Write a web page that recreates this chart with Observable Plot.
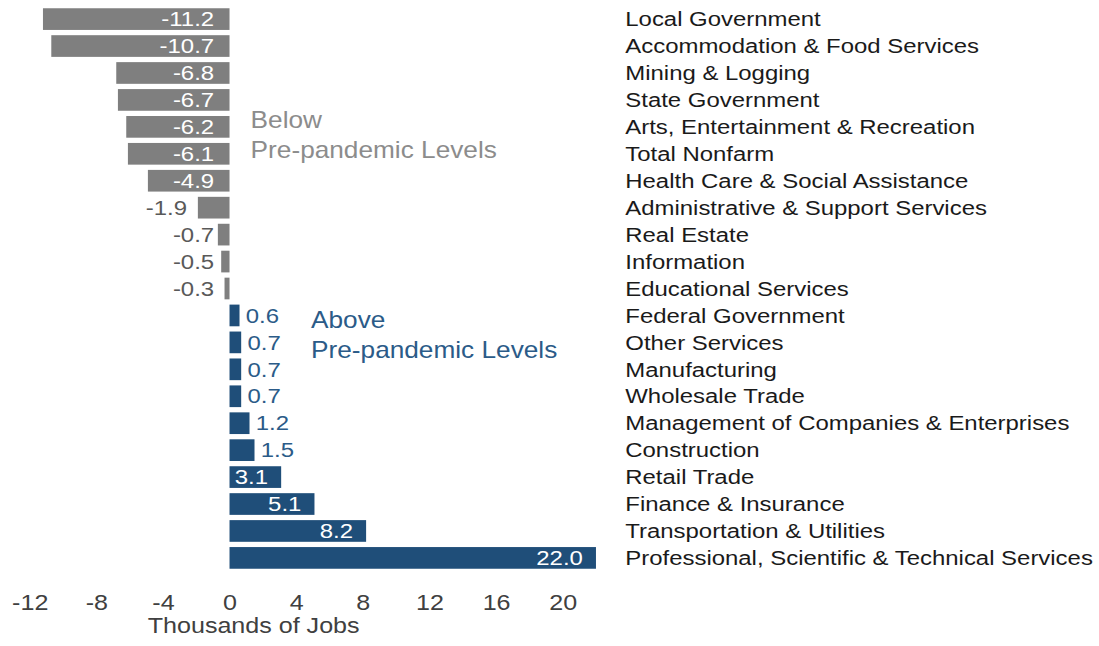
<!DOCTYPE html>
<html>
<head>
<meta charset="utf-8">
<script src="https://cdn.jsdelivr.net/npm/d3@7"></script>
<script src="https://cdn.jsdelivr.net/npm/@observablehq/plot@0.6"></script>
<style>
  html, body { margin: 0; padding: 0; background: #ffffff; overflow: hidden; }
  #chart svg { display: block; }
</style>
</head>
<body>
<div id="chart"></div>
<script>
const categories = [
  "Local Government",
  "Accommodation & Food Services",
  "Mining & Logging",
  "State Government",
  "Arts, Entertainment & Recreation",
  "Total Nonfarm",
  "Health Care & Social Assistance",
  "Administrative & Support Services",
  "Real Estate",
  "Information",
  "Educational Services",
  "Federal Government",
  "Other Services",
  "Manufacturing",
  "Wholesale Trade",
  "Management of Companies & Enterprises",
  "Construction",
  "Retail Trade",
  "Finance & Insurance",
  "Transportation & Utilities",
  "Professional, Scientific & Technical Services"
];
const values = [-11.2, -10.7, -6.8, -6.7, -6.2, -6.1, -4.9, -1.9, -0.7, -0.5, -0.3,
                0.6, 0.7, 0.7, 0.7, 1.2, 1.5, 3.1, 5.1, 8.2, 22.0];
const xTicks = [-12, -8, -4, 0, 4, 8, 12, 16, 20];
const xLabel = "Thousands of Jobs";
const belowNote = ["Below", "Pre-pandemic Levels"];
const aboveNote = ["Above", "Pre-pandemic Levels"];

const data = categories.map((c, i) => ({category: c, value: values[i]}));
const fmt = v => v.toFixed(1);
const GRAY = "#7f7f7f";
const BLUE = "#1f4e79";
const BLUE_TEXT = "#2b5b88";
const FONT = "Liberation Sans, Arial, sans-serif";
// the reference artwork is stretched horizontally
const STRETCH = 1.14;
const W = Math.round(1099 / STRETCH);

const negIn = data.filter(d => d.value <= -3);
const negOutFar = data.filter(d => d.value < -1 && d.value > -3);
const negOutNear = data.filter(d => d.value < 0 && d.value >= -1);
const posIn = data.filter(d => d.value >= 3);
const posOut = data.filter(d => d.value > 0 && d.value < 3);

const chart = Plot.plot({
  width: W,
  height: 646,
  marginLeft: 26,
  marginRight: W - 552,
  marginTop: 3,
  marginBottom: 72,
  style: {fontFamily: FONT, fontSize: "21px", color: "#404040", background: "#ffffff"},
  x: {domain: [-12, 24], ticks: xTicks, label: null},
  y: {domain: categories, padding: 0.195, round: false, axis: null},
  marks: [
    Plot.barX(data, {x: "value", y: "category", fill: d => d.value < 0 ? GRAY : BLUE}),
    Plot.text(negIn, {x: () => 0, y: "category", text: d => fmt(d.value), textAnchor: "end", dx: -14, fill: "white", fontSize: 21}),
    Plot.text(negOutNear, {x: () => 0, y: "category", text: d => fmt(d.value), textAnchor: "end", dx: -14, fill: "#595959", fontSize: 21}),
    Plot.text(negOutFar, {x: "value", y: "category", text: d => fmt(d.value), textAnchor: "end", dx: -10, fill: "#595959", fontSize: 21}),
    Plot.text(posIn, {x: "value", y: "category", text: d => fmt(d.value), textAnchor: "end", dx: -12, fill: "white", fontSize: 21}),
    Plot.text(posOut, {x: "value", y: "category", text: d => fmt(d.value), textAnchor: "start", dx: 5, fill: BLUE_TEXT, fontSize: 21}),
    Plot.text(data, {y: "category", text: "category", frameAnchor: "right", textAnchor: "start", dx: -4, fill: "#1a1a1a", fontSize: 21}),
    Plot.text([belowNote.join("\n")], {frameAnchor: "top", x: () => 0, text: d => d, textAnchor: "start", lineAnchor: "middle", dx: 18, dy: 130, lineHeight: 1.28, fill: "#8c8c8c", fontSize: 23}),
    Plot.text([aboveNote.join("\n")], {frameAnchor: "top", x: () => 0, text: d => d, textAnchor: "start", lineAnchor: "middle", dx: 71, dy: 330, lineHeight: 1.28, fill: BLUE_TEXT, fontSize: 23}),
    Plot.axisX({ticks: xTicks, tickSize: 0, tickPadding: 20, label: null, fontSize: 22, tickFormat: d => String(d), fill: "#404040"}),
    Plot.text([xLabel], {frameAnchor: "bottom", text: d => d, dx: -67, dy: 51, lineAnchor: "middle", fill: "#404040", fontSize: 22})
  ]
});
chart.style.transformOrigin = "0 0";
chart.style.transform = `scaleX(${STRETCH})`;
document.getElementById("chart").appendChild(chart);
</script>
</body>
</html>
